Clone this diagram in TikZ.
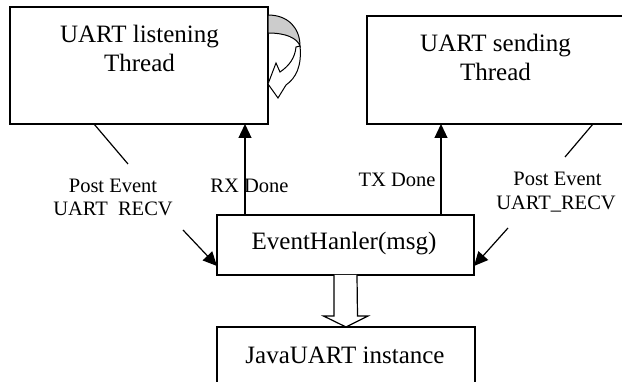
\documentclass[tikz,border=0pt]{standalone}
\usepackage{fontspec}
\setmainfont{Liberation Serif}
\usetikzlibrary{arrows.meta,calc}
\begin{document}
\begin{tikzpicture}[x=1pt,y={(0pt,-1pt)},
  box/.style={draw,line width=1.4pt,inner sep=0pt,outer sep=0pt,anchor=north west},
  btxt/.style={anchor=base,inner sep=0pt,font=\fontsize{25}{29}\selectfont},
  ltxt/.style={anchor=base,inner sep=0pt,font=\fontsize{20.5}{23}\selectfont},
  ln/.style={line width=1.2pt},
  arr/.style={line width=1.2pt,-{Triangle[length=14pt,width=13pt]}}]
\clip (0,0) rectangle (622,382);
\fill[white] (0,0) rectangle (622,382);
% boxes
\node[box,minimum width=258pt,minimum height=117pt] (lt) at (10,7) {};
\node[box,minimum width=257pt,minimum height=108pt] (snd) at (367,16) {};
\node[box,minimum width=257pt,minimum height=60pt] (ev) at (217,215) {};
\node[box,minimum width=258pt,minimum height=80pt] (jv) at (217,327) {};
% box texts
\node[btxt] (lt1) at (139.5,43) {UART listening};
\node[btxt] (lt2) at (139.5,72) {Thread};
\node[btxt] (sn1) at (495.5,52) {UART sending};
\node[btxt] (sn2) at (495.5,81) {Thread};
\node[btxt] (evt) at (344,250) {EventHanler(msg)};
\node[btxt] (jvt) at (345,364) {JavaUART instance};
% labels
\node[ltxt] (pl1) at (113,193) {Post Event};
\node[ltxt] (pl2) at (113,216) {UART\ \ RECV};
\node[ltxt] (rx) at (249.5,193) {RX Done};
\node[ltxt] (tx) at (397,187) {TX Done};
\node[ltxt] (pr1) at (557.5,186) {Post Event};
\node[ltxt] (pr2) at (556,210) {UART\_RECV};
% connectors
\coordinate (c1) at (128,164);
\coordinate (c2) at (183,230);
\coordinate (c3) at (565,157);
\coordinate (c4) at (508,228);
\draw[arr] ([xshift=28pt]ev.north west) -- ([xshift=28pt]ev.north west |- lt.south);
\draw[arr] ([xshift=224pt]ev.north west) -- ([xshift=224pt]ev.north west |- snd.south);
\draw[ln] ([xshift=84pt]lt.south west) -- (c1);
\draw[arr] (c2) -- ([yshift=-21pt]ev.west);
\draw[ln] ([xshift=226pt]snd.south west) -- (c3);
\draw[arr] (c4) -- ([yshift=-21pt]ev.east);
% hollow block arrow
\draw[line width=1.2pt,fill=white,line join=miter]
  ($(ev.south)+(-11.5,0)$) -- ++(0,41) -- ++(-10.5,0) -- (jv.north)
  -- ($(jv.north)+(22,-11)$) -- ++(-10.5,0) -- ($(ev.south)+(11.5,0)$);
% self loop curved arrow
\draw[line width=1pt,fill=gray!40]
  (268,15) .. controls (288,15) and (300,28) .. (300,46)
  .. controls (297,38) and (286,33) .. (268,33) -- cycle;
\draw[line width=1pt,fill=white,line join=miter]
  (300,46) .. controls (302,66) and (296,78) .. (286,85)
  -- (278,98) -- (268,84) -- (276,63) -- (280,72)
  .. controls (289,66) and (295,58) .. (296,47) -- cycle;
\end{tikzpicture}
\end{document}
